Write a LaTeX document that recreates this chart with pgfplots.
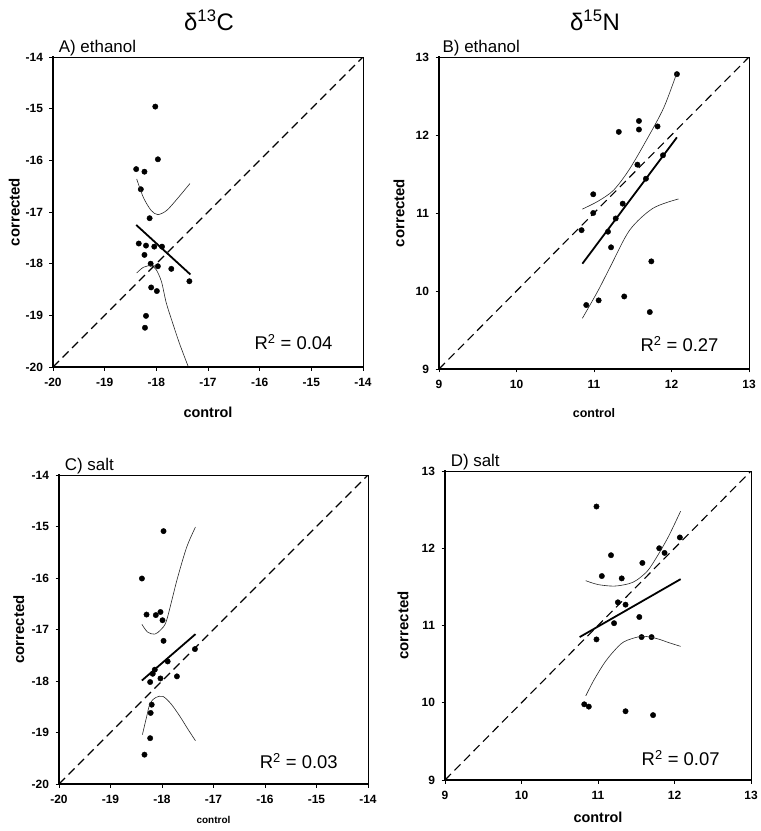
\documentclass[border=0pt]{standalone}
\usepackage{fontspec}
\setmainfont{Liberation Sans}
\usepackage{pgfplots}
\pgfplotsset{compat=1.18}
\pgfplotsset{
  panel/.style={
    scale only axis, width=310bp, height=310bp, anchor=north west,
    axis line style={line width=0.9bp},
    tick style={black, line width=0.8bp},
    tick align=outside, major tick length=3.5bp,
    xtick pos=left, ytick pos=left,
    tick label style={font=\bfseries\fontsize{12}{14}\selectfont},
    xticklabel style={yshift=-4.5bp},
    yticklabel style={xshift=-3bp},
    /pgf/number format/assume math mode=true,
    ylabel style={font=\bfseries\fontsize{15}{17}\selectfont, anchor=center},
    clip mode=individual,
    after end axis/.code={\draw[line width=1.7bp, line cap=rect] (rel axis cs:0,1) -- (rel axis cs:0,0) -- (rel axis cs:1,0);},
  },
  pts/.style={only marks, mark=*, mark size=2.7bp, black},
  reg/.style={black, line width=1.8bp},
  ci/.style={black!85, line width=0.6bp, smooth},
  diag/.style={black, line width=1.1bp, dash pattern=on 8.5bp off 5bp},
}
\begin{document}
\begin{tikzpicture}
\useasboundingbox (0,0) rectangle (761bp,-831bp);
\node[font=\fontsize{24}{26}\selectfont] at (209bp,-20bp) {δ\textsuperscript{13}C};
\node[font=\fontsize{24}{26}\selectfont] at (595bp,-20bp) {δ\textsuperscript{15}N};

% ---------------- A) ethanol, d13C
\begin{axis}[panel, at={(53bp,-57bp)},
  xmin=-20, xmax=-14, ymin=-20, ymax=-14,
  xtick={-20,-19,...,-14}, ytick={-20,-19,...,-14},
  xlabel={control}, ylabel={corrected},
  xlabel style={font=\bfseries\fontsize{14.5}{16}\selectfont, at={(axis description cs:0.5,-0.145)}, anchor=center},
  ylabel style={at={(axis description cs:-0.125,0.5)}},
]
\addplot[diag] coordinates {(-20,-20) (-14,-14)};
\addplot[pts] coordinates {
(-18.02,-14.96) (-17.97,-15.98) (-18.39,-16.17) (-18.23,-16.22) (-18.30,-16.56)
(-18.13,-17.12) (-18.34,-17.61) (-18.20,-17.65) (-18.04,-17.67) (-17.89,-17.67)
(-18.23,-17.83) (-18.11,-18.00) (-17.97,-18.05) (-17.71,-18.10) (-17.36,-18.34)
(-18.10,-18.46) (-17.99,-18.53) (-18.20,-19.01) (-18.22,-19.24)};
\addplot[reg] coordinates {(-18.39,-17.25) (-17.34,-18.21)};
\addplot[ci] coordinates {(-18.38,-16.36) (-18.25,-16.72) (-18.10,-16.97) (-17.97,-17.05) (-17.80,-16.97) (-17.60,-16.75) (-17.35,-16.45)};
\addplot[ci] coordinates {(-18.38,-18.18) (-18.25,-18.07) (-18.10,-18.04) (-18.00,-18.12) (-17.90,-18.35) (-17.81,-18.75) (-17.70,-19.10) (-17.55,-19.55) (-17.36,-20.05)};
\node[font=\fontsize{17}{20}\selectfont, anchor=south west, inner sep=1bp] at (axis description cs:0.015,1) {A) ethanol};
\node[font=\fontsize{18.5}{20}\selectfont] at (axis description cs:0.776,0.08) {R\textsuperscript{2} = 0.04};
\end{axis}

% ---------------- B) ethanol, d15N
\begin{axis}[panel, at={(439bp,-57bp)}, height=312bp,
  xmin=9, xmax=13, ymin=9, ymax=13,
  xtick={9,...,13}, ytick={9,...,13},
  xlabel={control}, ylabel={corrected},
  xlabel style={font=\bfseries\fontsize{12.5}{14}\selectfont, at={(axis description cs:0.5,-0.141)}, anchor=center},
  ylabel style={at={(axis description cs:-0.129,0.5)}},
]
\addplot[diag] coordinates {(9,9) (13,13)};
\addplot[pts] coordinates {
(12.07,12.78) (11.58,12.18) (11.58,12.07) (11.82,12.11) (11.32,12.04)
(11.89,11.74) (11.56,11.62) (11.67,11.44) (10.99,11.24) (11.37,11.12)
(10.99,11.00) (11.28,10.93) (10.84,10.78) (11.18,10.76) (11.22,10.56)
(11.74,10.38) (10.90,9.82) (11.06,9.88) (11.39,9.93) (11.72,9.73)};
\addplot[reg] coordinates {(10.85,10.35) (12.07,11.97)};
\addplot[ci] coordinates {(10.85,11.05) (11.05,11.15) (11.25,11.29) (11.45,11.55) (11.68,11.94) (11.90,12.35) (12.07,12.80)};
\addplot[ci] coordinates {(10.85,9.65) (11.05,10.00) (11.21,10.31) (11.46,10.78) (11.76,11.06) (12.09,11.18)};
\node[font=\fontsize{17}{20}\selectfont, anchor=south west, inner sep=1bp] at (axis description cs:0.008,1) {B) ethanol};
\node[font=\fontsize{18.5}{20}\selectfont] at (axis description cs:0.776,0.08) {R\textsuperscript{2} = 0.27};
\end{axis}

% ---------------- C) salt, d13C
\begin{axis}[panel, at={(59bp,-475bp)}, width=309bp, height=309bp,
  xmin=-20, xmax=-14, ymin=-20, ymax=-14,
  xtick={-20,-19,...,-14}, ytick={-20,-19,...,-14},
  xlabel={control}, ylabel={corrected},
  xlabel style={font=\bfseries\fontsize{10}{12}\selectfont, at={(axis description cs:0.5,-0.117)}, anchor=center},
  ylabel style={at={(axis description cs:-0.13,0.5)}},
]
\addplot[diag] coordinates {(-20,-20) (-14,-14)};
\addplot[pts] coordinates {
(-17.97,-15.09) (-18.39,-16.01) (-18.30,-16.71) (-18.12,-16.72) (-18.03,-16.66)
(-17.99,-16.82) (-17.97,-17.22) (-17.36,-17.38) (-17.89,-17.62) (-18.14,-17.78)
(-18.18,-17.86) (-17.71,-17.91) (-18.03,-17.95) (-18.23,-18.02) (-18.20,-18.46)
(-18.22,-18.62) (-18.23,-19.11) (-18.34,-19.43)};
\addplot[reg] coordinates {(-18.39,-17.99) (-17.35,-17.09)};
\addplot[ci] coordinates {(-18.39,-16.90) (-18.28,-17.05) (-18.14,-17.09) (-18.02,-17.00) (-17.91,-16.82) (-17.71,-16.04) (-17.52,-15.40) (-17.35,-15.01)};
\addplot[ci] coordinates {(-18.38,-19.04) (-18.30,-18.70) (-18.23,-18.43) (-18.12,-18.32) (-17.98,-18.30) (-17.82,-18.45) (-17.65,-18.69) (-17.50,-18.93) (-17.35,-19.16)};
\node[font=\fontsize{17}{20}\selectfont, anchor=south west, inner sep=1bp] at (axis description cs:0.015,1) {C) salt};
\node[font=\fontsize{18.5}{20}\selectfont] at (axis description cs:0.776,0.075) {R\textsuperscript{2} = 0.03};
\end{axis}

% ---------------- D) salt, d15N
\begin{axis}[panel, at={(445bp,-471bp)}, width=306bp, height=309bp,
  xmin=9, xmax=13, ymin=9, ymax=13,
  xtick={9,...,13}, ytick={9,...,13},
  xlabel={control}, ylabel={corrected},
  xlabel style={font=\bfseries\fontsize{14.5}{16}\selectfont, at={(axis description cs:0.5,-0.12)}, anchor=center},
  ylabel style={at={(axis description cs:-0.137,0.5)}},
]
\addplot[diag] coordinates {(9,9) (13,13)};
\addplot[pts] coordinates {
(10.98,12.54) (12.07,12.14) (11.80,12.00) (11.87,11.94) (11.17,11.91)
(11.58,11.81) (11.05,11.64) (11.31,11.61) (11.26,11.30) (11.36,11.27)
(11.54,11.11) (11.21,11.03) (10.98,10.82) (11.57,10.85) (11.70,10.85)
(10.82,9.98) (10.88,9.95) (11.36,9.89) (11.72,9.84)};
\addplot[reg] coordinates {(10.76,10.85) (12.08,11.60)};
\addplot[ci] coordinates {(10.84,11.58) (11.00,11.53) (11.21,11.51) (11.40,11.54) (11.51,11.59) (11.65,11.71) (11.77,11.89) (11.92,12.15) (12.08,12.48)};
\addplot[ci] coordinates {(10.84,10.09) (10.95,10.30) (11.08,10.51) (11.20,10.66) (11.34,10.79) (11.57,10.86) (11.77,10.83) (11.92,10.78) (12.08,10.73)};
\node[font=\fontsize{17}{20}\selectfont, anchor=south west, inner sep=1bp] at (axis description cs:0.015,1) {D) salt};
\node[font=\fontsize{18.5}{20}\selectfont] at (axis description cs:0.77,0.072) {R\textsuperscript{2} = 0.07};
\end{axis}
\end{tikzpicture}
\end{document}
